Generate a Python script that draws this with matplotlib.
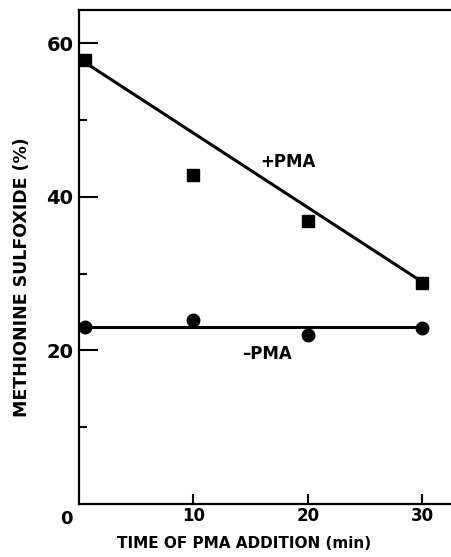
import matplotlib.pyplot as plt

# ----- Data -----
time_plus = [0.5, 10, 20, 30]
mso_plus = [57.8, 42.8, 36.8, 28.8]
fit_plus_x = [0.5, 30]
fit_plus_y = [57.5, 28.9]

time_minus = [0.5, 10, 20, 30]
mso_minus = [23.0, 23.9, 22.0, 22.9]
fit_minus_x = [0.5, 30]
fit_minus_y = [23.0, 23.0]

plt.rcParams["font.family"] = ["DejaVu Sans"]
plt.rcParams["font.weight"] = "bold"

fig = plt.figure(figsize=(4.51, 5.57), dpi=100)
ax = fig.add_axes([0.175, 0.095, 0.825, 0.887])

ax.plot(fit_plus_x, fit_plus_y, color="black", lw=2.2)
ax.plot(time_plus, mso_plus, "s", color="black", ms=9)
ax.plot(fit_minus_x, fit_minus_y, color="black", lw=2.2)
ax.plot(time_minus, mso_minus, "o", color="black", ms=9)

ax.text(18.3, 44.5, "+PMA", ha="center", va="center", fontsize=12, fontweight="bold")
ax.text(16.4, 19.5, "\u2013PMA", ha="center", va="center", fontsize=12, fontweight="bold")

ax.set_xlim(0, 32.5)
ax.set_ylim(0, 64.3)

ax.spines["right"].set_visible(False)
for s in ["left", "top", "bottom"]:
    ax.spines[s].set_linewidth(1.6)

ax.set_yticks([20, 40, 60])
ax.set_yticks([10, 30, 50], minor=True)
ax.set_xticks([10, 20, 30])
ax.tick_params(axis="y", which="major", direction="in", length=14, width=1.5, labelsize=14, pad=4)
ax.tick_params(axis="y", which="minor", direction="in", length=6, width=1.5)
ax.tick_params(axis="x", which="major", direction="in", length=7, width=1.5, labelsize=12, pad=2)

ax.text(-0.035, -0.03, "0", transform=ax.transAxes, ha="center", va="center", fontsize=13)

ax.set_xlabel("TIME OF PMA ADDITION (min)", fontsize=11, fontweight="bold")
ax.set_ylabel("METHIONINE SULFOXIDE (%)", fontsize=12.5, fontweight="bold")
ax.xaxis.set_label_coords(0.445, -0.065)
ax.yaxis.set_label_coords(-0.128, 0.46)

plt.savefig("out.png", dpi=100)
